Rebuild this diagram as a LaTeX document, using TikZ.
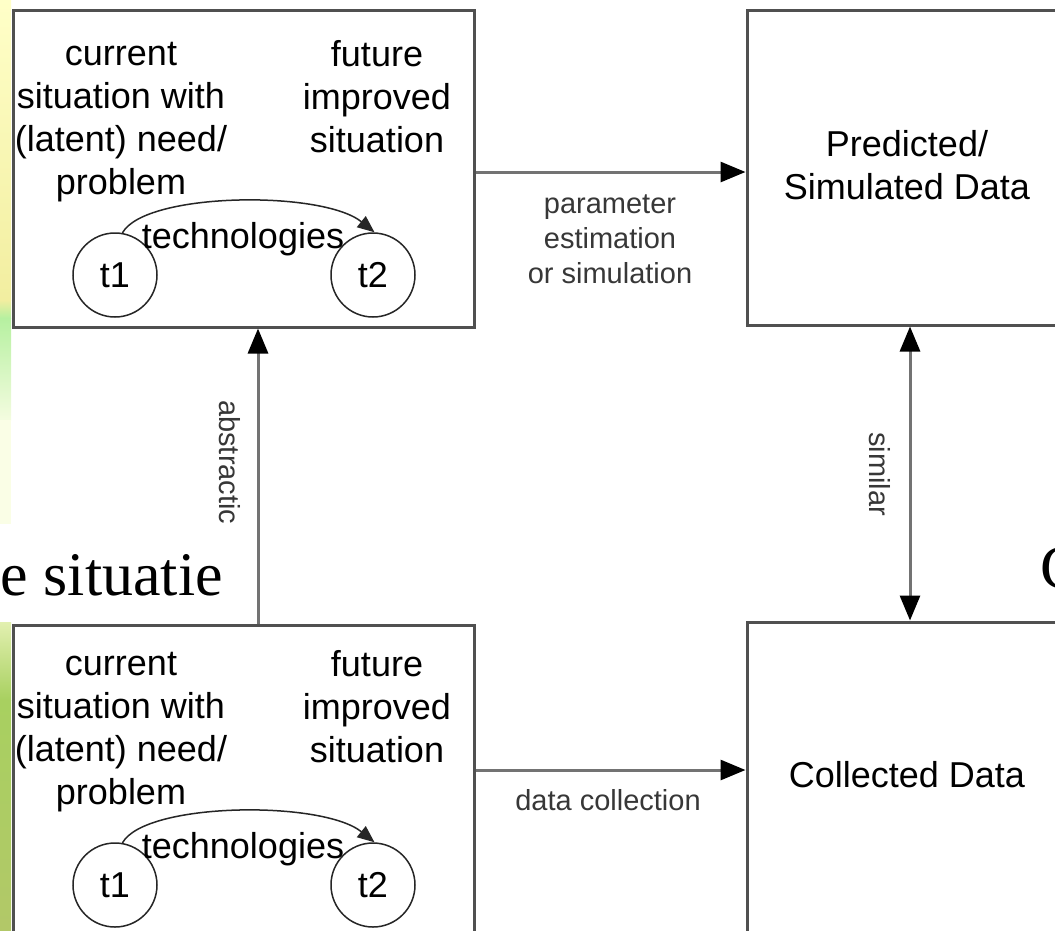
\documentclass[tikz,border=0pt]{standalone}
\usepackage{fontspec}
\setmainfont{Liberation Sans}
\newfontfamily\timesf{Liberation Serif}
\usetikzlibrary{arrows.meta,calc}
\definecolor{boxline}{RGB}{80,80,80}
\definecolor{arrline}{RGB}{115,115,115}
\definecolor{lbltext}{RGB}{55,55,55}
\definecolor{yA}{RGB}{255,255,200}
\definecolor{yB}{RGB}{242,238,160}
\definecolor{gA}{RGB}{182,240,160}
\definecolor{gB}{RGB}{244,252,224}
\definecolor{gC}{RGB}{250,254,230}
\definecolor{hA}{RGB}{226,240,176}
\definecolor{hB}{RGB}{168,208,96}
\definecolor{hC}{RGB}{178,200,104}
\begin{document}
\begin{tikzpicture}[x=1pt,y=-1pt,
  box/.style={draw=boxline, line width=3pt, fill=white, inner sep=0pt},
  txt/.style={font=\fontsize{36}{43}\selectfont, align=center, inner sep=0pt},
  lbl/.style={font=\fontsize{29}{35}\selectfont, align=center, inner sep=0pt, text=lbltext},
  circ/.style={circle, draw=black!85, line width=1.5pt, minimum size=84pt, inner sep=0pt, font=\fontsize{36}{43}\selectfont},
  arr/.style={draw=arrline, line width=3pt, -{Triangle[length=25pt,width=20pt,color=black]}},
  darr/.style={draw=arrline, line width=3pt, {Triangle[length=25pt,width=20pt,color=black]}-{Triangle[length=25pt,width=20pt,color=black]}},
  tarr/.style={draw=black!85, line width=1.5pt, -{Triangle[length=17pt,width=14pt]}},
  big/.style={font=\timesf\fontsize{62}{70}\selectfont, inner sep=0pt}
]
\useasboundingbox (0,0) rectangle (1055,930);
\clip (0,0) rectangle (1055,930);
% left decorative strips
\shade[top color=yA, bottom color=yB] (0,0) rectangle (11,300);
\shade[top color=yB, bottom color=gA] (0,300) rectangle (11,318);
\shade[top color=gA, bottom color=gB] (0,318) rectangle (11,420);
\fill[gC] (0,420) rectangle (11,524);
\shade[top color=hA, bottom color=hB] (0,622) rectangle (11,700);
\shade[top color=hB, bottom color=hC] (0,700) rectangle (11,930);

% boxes
\node[box, minimum width=461pt, minimum height=317pt] (tl) at (243.5,168.5) {};
\node[box, minimum width=320pt, minimum height=315pt] (tr) at (907,167.5) {};
\node[box, minimum width=461pt, minimum height=315pt] (bl) at (243.5,782.5) {};
\node[box, minimum width=320pt, minimum height=313pt] (br) at (907,778.5) {};

% top-left box content
\node[txt] (tlleft) at (121,122) {current\\situation with\\(latent) need/\\problem};
\node[txt] (tlright) at (377,97) {future\\improved\\situation};
\node[circ] (t1) at (115,275) {t1};
\node[circ] (t2) at (373,275) {t2};
\draw[tarr] (t1.80) .. controls (145,192) and (322,190) .. (t2.88);
\node[txt] (tech) at (243,239) {technologies};

% bottom-left box content
\node[txt] (blleft) at (121,732) {current\\situation with\\(latent) need/\\problem};
\node[txt] (blright) at (377,707) {future\\improved\\situation};
\node[circ] (t1b) at (115,885) {t1};
\node[circ] (t2b) at (373,885) {t2};
\draw[tarr] (t1b.80) .. controls (145,802) and (322,800) .. (t2b.88);
\node[txt] (techb) at (243,849) {technologies};

% right boxes content
\node[txt] (trtext) at (907,165) {Predicted/\\Simulated Data};
\node[txt] (brtext) at (907,774.5) {Collected Data};

% connectors
\draw[arr] ([yshift=-3.5pt]tl.east) -- ([yshift=-4.5pt]tr.west);
\node[lbl] (pe) at (610,239) {parameter\\estimation\\or simulation};
\draw[arr] ([yshift=12.5pt]bl.east) -- ([yshift=8.5pt]br.west);
\node[lbl] (dc) at (608,800) {data collection};
\draw[arr] ([xshift=14.5pt]bl.north) -- ([xshift=14.5pt]tl.south);
\node[lbl, rotate=-90, anchor=west] (abs) at (230,400) {abstractic};
\draw[darr] ([xshift=3pt]tr.south) -- ([xshift=3pt]br.north);
\node[lbl, rotate=-90, anchor=west] (sim) at (880,432) {similar};

% overlapping slide text
\node[big, anchor=base east] (sit) at (223,595) {e situatie};
\node[big, anchor=base west] (cc) at (1040,588) {C};
\end{tikzpicture}
\end{document}
